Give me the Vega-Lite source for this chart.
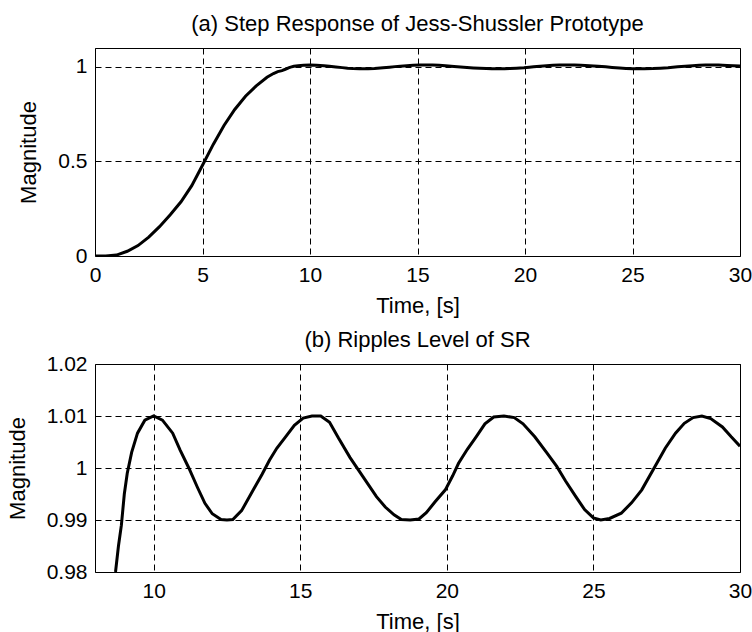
{
  "$schema": "https://vega.github.io/schema/vega-lite/v6.json",
  "padding": {"left": 5, "top": 12, "right": 0, "bottom": 0},
  "spacing": 11,
  "config": {
    "font": "Liberation Sans",
    "view": {"stroke": "black", "strokeWidth": 1},
    "title": {"font": "Liberation Sans", "fontSize": 22, "fontWeight": "normal", "color": "black", "offset": 12, "frame": "group"},
    "axis": {
      "labelFont": "Liberation Sans", "labelFontSize": 21, "labelColor": "black",
      "titleFont": "Liberation Sans", "titleFontSize": 22, "titleFontWeight": "normal", "titleColor": "black",
      "domain": false, "ticks": false, "tickSize": 0,
      "grid": true, "gridColor": "black", "gridDash": [6, 4], "gridOpacity": 1, "gridWidth": 1,
      "labelPadding": 8, "labelFlush": false, "labelOverlap": false
    },
    "axisX": {"titlePadding": 10},
    "axisY": {"titlePadding": 17}
  },
  "datasets": {
    "sr": [
      {"t": 0, "v": 0}, {"t": 0.5, "v": 0}, {"t": 1.0, "v": 0.005}, {"t": 1.5, "v": 0.025},
      {"t": 2.0, "v": 0.055}, {"t": 2.5, "v": 0.1}, {"t": 3.0, "v": 0.155}, {"t": 3.5, "v": 0.218},
      {"t": 4.0, "v": 0.287}, {"t": 4.5, "v": 0.372}, {"t": 5.0, "v": 0.48}, {"t": 5.5, "v": 0.59},
      {"t": 6.0, "v": 0.69}, {"t": 6.5, "v": 0.775}, {"t": 7.0, "v": 0.845}, {"t": 7.5, "v": 0.9},
      {"t": 8.0, "v": 0.945}, {"t": 8.3, "v": 0.965}, {"t": 8.5, "v": 0.975}, {"t": 8.7, "v": 0.98},
      {"t": 8.8, "v": 0.985}, {"t": 8.9, "v": 0.989}, {"t": 9.0, "v": 0.995}, {"t": 9.1, "v": 0.999},
      {"t": 9.25, "v": 1.003}, {"t": 9.45, "v": 1.0067}, {"t": 9.7, "v": 1.0092}, {"t": 10.0, "v": 1.01},
      {"t": 10.3, "v": 1.0092}, {"t": 10.65, "v": 1.0067}, {"t": 10.9, "v": 1.0035}, {"t": 11.2, "v": 1.0},
      {"t": 11.5, "v": 0.9962}, {"t": 11.75, "v": 0.9932}, {"t": 12.0, "v": 0.9912}, {"t": 12.3, "v": 0.9901},
      {"t": 12.5, "v": 0.99}, {"t": 12.7, "v": 0.9901}, {"t": 13.0, "v": 0.9918}, {"t": 13.4, "v": 0.9958},
      {"t": 13.7, "v": 0.9988}, {"t": 13.95, "v": 1.0015}, {"t": 14.2, "v": 1.0038}, {"t": 14.5, "v": 1.006},
      {"t": 14.8, "v": 1.0082}, {"t": 15.1, "v": 1.0096}, {"t": 15.4, "v": 1.01}, {"t": 15.7, "v": 1.01},
      {"t": 16.0, "v": 1.0088}, {"t": 16.3, "v": 1.0058}, {"t": 16.7, "v": 1.002}, {"t": 17.0, "v": 0.9995},
      {"t": 17.3, "v": 0.997}, {"t": 17.6, "v": 0.9945}, {"t": 17.9, "v": 0.9925}, {"t": 18.2, "v": 0.991},
      {"t": 18.45, "v": 0.9901}, {"t": 18.75, "v": 0.99}, {"t": 19.05, "v": 0.9902}, {"t": 19.3, "v": 0.9914},
      {"t": 19.6, "v": 0.9935}, {"t": 19.95, "v": 0.9958}, {"t": 20.2, "v": 0.9985}, {"t": 20.4, "v": 1.0009},
      {"t": 20.7, "v": 1.0036}, {"t": 21.0, "v": 1.006}, {"t": 21.3, "v": 1.0085}, {"t": 21.6, "v": 1.0098},
      {"t": 21.95, "v": 1.01}, {"t": 22.3, "v": 1.0097}, {"t": 22.6, "v": 1.0085}, {"t": 23.0, "v": 1.006},
      {"t": 23.4, "v": 1.003}, {"t": 23.75, "v": 1.0003}, {"t": 24.05, "v": 0.9975}, {"t": 24.4, "v": 0.9945},
      {"t": 24.7, "v": 0.992}, {"t": 25.0, "v": 0.9904}, {"t": 25.25, "v": 0.99}, {"t": 25.55, "v": 0.9903},
      {"t": 25.95, "v": 0.9913}, {"t": 26.3, "v": 0.9933}, {"t": 26.65, "v": 0.9958}, {"t": 27.1, "v": 1.0003},
      {"t": 27.45, "v": 1.0038}, {"t": 27.8, "v": 1.0067}, {"t": 28.1, "v": 1.0086}, {"t": 28.4, "v": 1.0097},
      {"t": 28.7, "v": 1.01}, {"t": 29.0, "v": 1.0095}, {"t": 29.4, "v": 1.0079}, {"t": 29.7, "v": 1.006},
      {"t": 30.0, "v": 1.0042}
    ]
  },
  "vconcat": [
    {
      "title": "(a) Step Response of Jess-Shussler Prototype",
      "width": 645,
      "height": 208,
      "data": {"name": "sr"},
      "mark": {"type": "line", "color": "black", "strokeWidth": 3, "clip": true},
      "encoding": {
        "x": {"field": "t", "type": "quantitative", "title": "Time, [s]",
              "scale": {"domain": [0, 30], "nice": false, "zero": false},
              "axis": {"values": [0, 5, 10, 15, 20, 25, 30], "format": "~g"}},
        "y": {"field": "v", "type": "quantitative", "title": "Magnitude",
              "scale": {"domain": [0, 1.1], "nice": false, "zero": false},
              "axis": {"values": [0, 0.5, 1], "format": "~g"}}
      }
    },
    {
      "title": {"text": "(b) Ripples Level of SR", "offset": 1},
      "width": 645,
      "height": 208,
      "data": {"name": "sr"},
      "mark": {"type": "line", "color": "black", "strokeWidth": 3, "clip": true},
      "encoding": {
        "x": {"field": "t", "type": "quantitative", "title": "Time, [s]",
              "scale": {"domain": [8, 30], "nice": false, "zero": false},
              "axis": {"values": [10, 15, 20, 25, 30], "format": "~g"}},
        "y": {"field": "v", "type": "quantitative", "title": "Magnitude",
              "scale": {"domain": [0.98, 1.02], "nice": false, "zero": false},
              "axis": {"values": [0.98, 0.99, 1, 1.01, 1.02], "format": "~g"}}
      }
    }
  ]
}
